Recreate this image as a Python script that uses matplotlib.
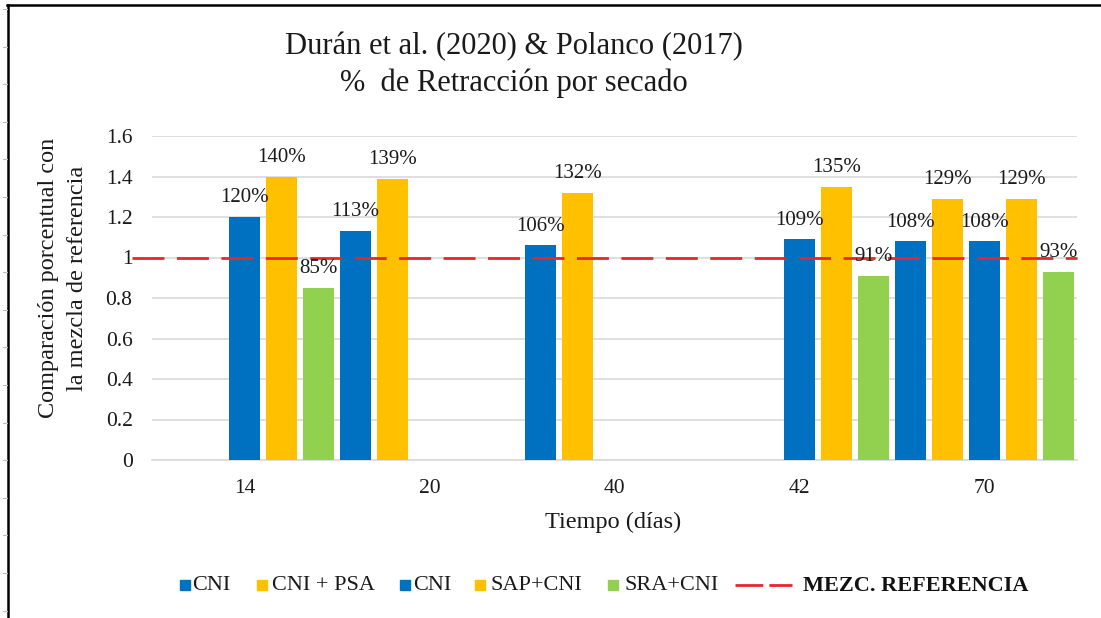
import numpy as np
import matplotlib
matplotlib.use("Agg")
import matplotlib.pyplot as plt
from matplotlib.patches import Rectangle
from matplotlib.lines import Line2D

# ---------------- data ----------------
categories = ['14', '20', '40', '42', '70']
series_names = ['CNI', 'CNI + PSA', 'CNI', 'SAP+CNI', 'SRA+CNI']
cni_a = [np.nan, 1.13, 1.06, np.nan, 1.08]
cni_psa = [np.nan, 1.39, 1.32, np.nan, 1.29]
cni_b = [1.20, np.nan, np.nan, 1.09, 1.08]
sap_cni = [1.40, np.nan, np.nan, 1.35, 1.29]
sra_cni = [0.85, np.nan, np.nan, 0.91, 0.93]
reference = 1.0
reference_name = 'MEZC. REFERENCIA'
y_ticks = [0, 0.2, 0.4, 0.6, 0.8, 1.0, 1.2, 1.4, 1.6]
y_tick_labels = ['0', '0.2', '0.4', '0.6', '0.8', '1', '1.2', '1.4', '1.6']

series_values = [cni_a, cni_psa, cni_b, sap_cni, sra_cni]
colors = ['#0070C0', '#FFC000', '#0070C0', '#FFC000', '#92D050']
ref_color = '#E8262B'

plt.rcParams['font.family'] = ['Liberation Serif', 'DejaVu Serif']
W, H = 1101, 618
fig = plt.figure(figsize=(W / 100, H / 100), dpi=100)

def fx(px):
    return px / W

def fy(py):
    return 1 - py / H

ax = fig.add_axes([fx(152), fy(460), fx(1077) - fx(152), fy(136) - fy(460)])

n = len(series_values)
slot = 1.0 / n
bar_w = slot * 0.84
x = np.arange(len(categories))
for j, (vals, c) in enumerate(zip(series_values, colors)):
    pos = x - 0.5 + slot * (j + 0.5)
    vals = np.array(vals, dtype=float)
    m = ~np.isnan(vals)
    bars = ax.bar(pos[m], vals[m], width=bar_w, color=c, zorder=3)
    for b, v in zip(bars, vals[m]):
        ax.annotate(f"{v * 100:.0f}%", (b.get_x() + b.get_width() / 2, v),
                    xytext=(0, 7), textcoords='offset points',
                    ha='center', va='bottom', fontsize=15, color='#1a1a1a',
                    zorder=5)

ax.set_xlim(-0.5, len(categories) - 0.5)
ax.set_ylim(0, 1.6)

# reference line (extends slightly left of the plot as in the original)
x0 = -0.5 - (152 - 132) / 185.0
ax.plot([x0, len(categories) - 0.5], [reference, reference], color=ref_color,
        lw=2.0, ls=(0, (11.5, 4.5)), zorder=4, clip_on=False)

ax.set_yticks(y_ticks)
ax.set_yticklabels(y_tick_labels)
ax.set_xticks(x)
ax.set_xticklabels(categories)
ax.tick_params(axis='both', length=0, labelsize=15.5, colors='#1a1a1a')
ax.tick_params(axis='y', pad=14)
ax.tick_params(axis='x', pad=14)
ax.grid(axis='y', color='#D9D9D9', lw=1.2, zorder=0)
ax.set_axisbelow(True)
for s in ['top', 'right', 'left']:
    ax.spines[s].set_visible(False)
ax.spines['bottom'].set_color('#D9D9D9')
ax.spines['bottom'].set_linewidth(1.2)

# axis labels
fig.text(fx(63), fy(278), 'Comparación porcentual con\nla mezcla de referencia',
         rotation=90, ha='center', va='center', fontsize=17.5,
         linespacing=1.45, color='#1a1a1a')
fig.text(fx(613), fy(522), 'Tiempo (días)', ha='center', va='center',
         fontsize=17.5, color='#1a1a1a')

# title
fig.text(fx(514), fy(32), 'Durán et al. (2020) & Polanco (2017)\n%  de Retracción por secado',
         ha='center', va='top', fontsize=22, linespacing=1.3, color='#1a1a1a')

# legend (manual)
leg_y = 585
sq = 10
legend_items = [
    (colors[0], series_names[0], 180, 192),
    (colors[1], series_names[1], 257, 272),
    (colors[2], series_names[2], 400, 413),
    (colors[3], series_names[3], 475, 490),
    (colors[4], series_names[4], 608, 624),
]
for c, lab, sx, tx in legend_items:
    fig.add_artist(Rectangle((fx(sx), fy(leg_y + sq / 2)), fx(sq), fy(0) - fy(sq),
                             transform=fig.transFigure, color=c))
    fig.text(fx(tx), fy(leg_y + 1), lab, ha='left', va='center', fontsize=16,
             color='#1a1a1a')
fig.add_artist(Line2D([fx(735), fx(792)], [fy(leg_y), fy(leg_y)],
                      transform=fig.transFigure, color=ref_color, lw=2.0,
                      ls=(0, (10, 2.2, 10, 4, 1, 40))))
fig.text(fx(803), fy(leg_y + 1), reference_name, ha='left', va='center',
         fontsize=16, fontweight='bold', color='#111111')

# page frame
fig.add_artist(Line2D([fx(7), 1], [fy(5), fy(5)], transform=fig.transFigure,
                      color='black', lw=1.8))
fig.add_artist(Line2D([fx(8), fx(8)], [fy(5), 0], transform=fig.transFigure,
                      color='black', lw=1.8))
for k in range(17):
    yy = 9 + 37.6 * k
    fig.add_artist(Line2D([fx(3), fx(7)], [fy(yy), fy(yy)], transform=fig.transFigure,
                          color='#BBBBBB', lw=0.8))

fig.savefig('out.png', dpi=100)
